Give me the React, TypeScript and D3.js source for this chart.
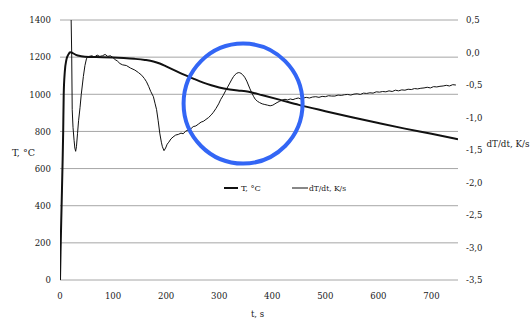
import React from "react";
import * as d3 from "d3";

// ---- data ----
const tempTime = [0, 1, 3, 5, 6, 7, 9, 12, 16, 19, 24, 30, 40, 55, 80, 100, 120, 140, 160, 176, 188, 200, 215, 230, 250, 270, 285, 300, 320, 335, 350, 365, 380, 415, 450, 500, 550, 600, 650, 700, 750];
const tempValue = [0, 150, 400, 650, 800, 1000, 1120, 1185, 1215, 1226, 1222, 1212, 1205, 1201, 1200, 1198, 1195, 1191, 1185, 1177, 1166, 1150, 1130, 1110, 1086, 1063, 1049, 1037, 1026, 1020, 1016, 1007, 996, 970, 943, 909, 876, 845, 815, 787, 758];

const rateTime = [21, 22, 23, 24.5, 26.5, 28, 29.5, 31, 33, 35, 37.7, 40, 44, 47, 50, 55, 60, 65, 70, 75, 80, 85, 90, 95, 100, 104, 108, 113, 118, 125, 133, 141, 148, 154, 159, 163, 167, 171, 176, 179, 182, 185, 188, 191, 193, 196, 199, 202, 205, 209, 213, 218, 223, 228, 232, 237, 242, 247, 251, 256, 261, 266, 270, 275, 280, 285, 289, 294, 299, 303, 307.5, 312, 316, 320, 324, 327, 330, 333, 336, 338, 341, 344, 348, 352, 355, 358, 362, 365, 368, 372, 376, 381, 386, 391, 396, 401, 405, 409, 414, 419, 424, 429, 434, 439, 444, 449, 454, 459, 464, 470, 476, 482, 488, 494, 500, 506, 512, 518, 524, 530, 536, 542, 548, 554, 560, 566, 572, 578, 584, 590, 596, 602, 608, 614, 620, 626, 632, 638, 644, 650, 656, 662, 668, 674, 680, 686, 692, 698, 704, 710, 716, 722, 728, 734, 740, 746];
const rateValue = [0.5, 0.0, -0.88, -1.15, -1.35, -1.47, -1.52, -1.45, -1.25, -1.05, -0.85, -0.65, -0.37, -0.2, -0.09, -0.06, -0.05, -0.07, -0.04, -0.06, -0.05, -0.03, -0.06, -0.05, -0.08, -0.11, -0.13, -0.17, -0.19, -0.2, -0.24, -0.27, -0.31, -0.35, -0.4, -0.45, -0.52, -0.6, -0.68, -0.78, -0.88, -1.05, -1.24, -1.38, -1.45, -1.51, -1.47, -1.41, -1.38, -1.33, -1.3, -1.27, -1.26, -1.24, -1.25, -1.21, -1.19, -1.17, -1.14, -1.13, -1.1, -1.07, -1.06, -1.03, -1.0, -0.96, -0.92, -0.86, -0.79, -0.72, -0.66, -0.59, -0.53, -0.47, -0.41, -0.37, -0.34, -0.32, -0.31, -0.31, -0.32, -0.34, -0.38, -0.44, -0.5, -0.56, -0.63, -0.68, -0.72, -0.75, -0.77, -0.79, -0.8, -0.81, -0.82, -0.81, -0.79, -0.77, -0.75, -0.73, -0.72, -0.73, -0.715, -0.725, -0.71, -0.70, -0.715, -0.70, -0.69, -0.70, -0.685, -0.68, -0.69, -0.675, -0.68, -0.665, -0.67, -0.67, -0.655, -0.66, -0.65, -0.645, -0.655, -0.64, -0.635, -0.645, -0.625, -0.63, -0.62, -0.625, -0.605, -0.61, -0.6, -0.605, -0.59, -0.6, -0.58, -0.59, -0.575, -0.58, -0.565, -0.57, -0.555, -0.56, -0.55, -0.545, -0.535, -0.545, -0.525, -0.53, -0.52, -0.515, -0.505, -0.515, -0.495, -0.5, -0.49, -0.495, -0.48, -0.485];

const xTicks = [0, 100, 200, 300, 400, 500, 600, 700];
const leftTicks = [0, 200, 400, 600, 800, 1000, 1200, 1400];
const rightTicks = [0.5, 0.0, -0.5, -1.0, -1.5, -2.0, -2.5, -3.0, -3.5];

const seriesNames = ["T, °C", "dT/dt, K/s"];
const xTitle = "t, s";
const leftTitle = "T, °C";
const rightTitle = "dT/dt, K/s";

// annotation circle (data coords: time, temperature)
const circleCenter = [345, 950];

export default function App() {
  const W = 530, H = 322;
  const left = 60, right = 458, top = 20, bottom = 280;
  const x = d3.scaleLinear().domain([0, 750]).range([left, right]);
  const yL = d3.scaleLinear().domain([0, 1400]).range([bottom, top]);
  const yR = d3.scaleLinear().domain([-3.5, 0.5]).range([bottom, top]);

  const tData = tempTime.map((t, i) => [t, tempValue[i]] as [number, number]);
  const rData = rateTime.map((t, i) => [t, rateValue[i]] as [number, number]);

  const tLine = d3.line<[number, number]>().x(d => x(d[0])).y(d => yL(d[1])).curve(d3.curveMonotoneX);
  const rLine = d3.line<[number, number]>().x(d => x(d[0])).y(d => yR(d[1]));

  const fmtR = (v: number) => d3.format(".1f")(v).replace(".", ",").replace("−", "-");
  const ts = { fontFamily: "'DejaVu Serif Condensed', 'DejaVu Serif', serif" };
  const col = "#1a1a1a";

  return (
    <svg width={W} height={H} style={{ position: "absolute", left: 0, top: 0, background: "#fff" }}>
      <defs>
        <clipPath id="plot">
          <rect x={left} y={top - 1} width={right - left} height={bottom - top + 2} />
        </clipPath>
      </defs>
      <rect width={W} height={H} fill="#fff" />
      {leftTicks.map(v => (
        <line key={v} x1={left} x2={right} y1={yL(v)} y2={yL(v)} stroke="#a6a6a6" strokeWidth={1} />
      ))}
      {leftTicks.map(v => (
        <text key={v} style={ts} x={51} y={yL(v)} dy="0.35em" textAnchor="end" fontSize={9.5} fill={col}>{v}</text>
      ))}
      {rightTicks.map(v => (
        <text key={v} style={ts} x={466} y={yR(v)} dy="0.35em" textAnchor="start" fontSize={9.5} fill={col}>{fmtR(v)}</text>
      ))}
      {xTicks.map(v => (
        <text key={v} style={ts} x={x(v)} y={299} textAnchor="middle" fontSize={9.5} fill={col}>{v}</text>
      ))}
      <text style={ts} x={12} y={156} fontSize={9.5} fill={col} textLength={23} lengthAdjust="spacingAndGlyphs">{leftTitle}</text>
      <text style={ts} x={486.5} y={147} fontSize={9.5} fill={col} textLength={43} lengthAdjust="spacingAndGlyphs">{rightTitle}</text>
      <text style={ts} x={257.5} y={317} textAnchor="middle" fontSize={9.5} fill={col}>{xTitle}</text>

      <g clipPath="url(#plot)">
        <path d={rLine(rData) || ""} fill="none" stroke="#111" strokeWidth={1} strokeLinejoin="round" />
        <path d={tLine(tData) || ""} fill="none" stroke="#111" strokeWidth={2} strokeLinejoin="round" />
      </g>

      <line x1={224} x2={238} y1={188} y2={188} stroke="#111" strokeWidth={2} />
      <text style={ts} x={241} y={191} fontSize={8} fill={col} textLength={20} lengthAdjust="spacingAndGlyphs">{seriesNames[0]}</text>
      <line x1={292} x2={308} y1={188} y2={188} stroke="#111" strokeWidth={1} />
      <text style={ts} x={309} y={191} fontSize={8} fill={col} textLength={37} lengthAdjust="spacingAndGlyphs">{seriesNames[1]}</text>

      <ellipse cx={x(circleCenter[0])} cy={yL(circleCenter[1])} rx={59.5} ry={60} fill="none" stroke="#3366f5" strokeWidth={4} />
    </svg>
  );
}
